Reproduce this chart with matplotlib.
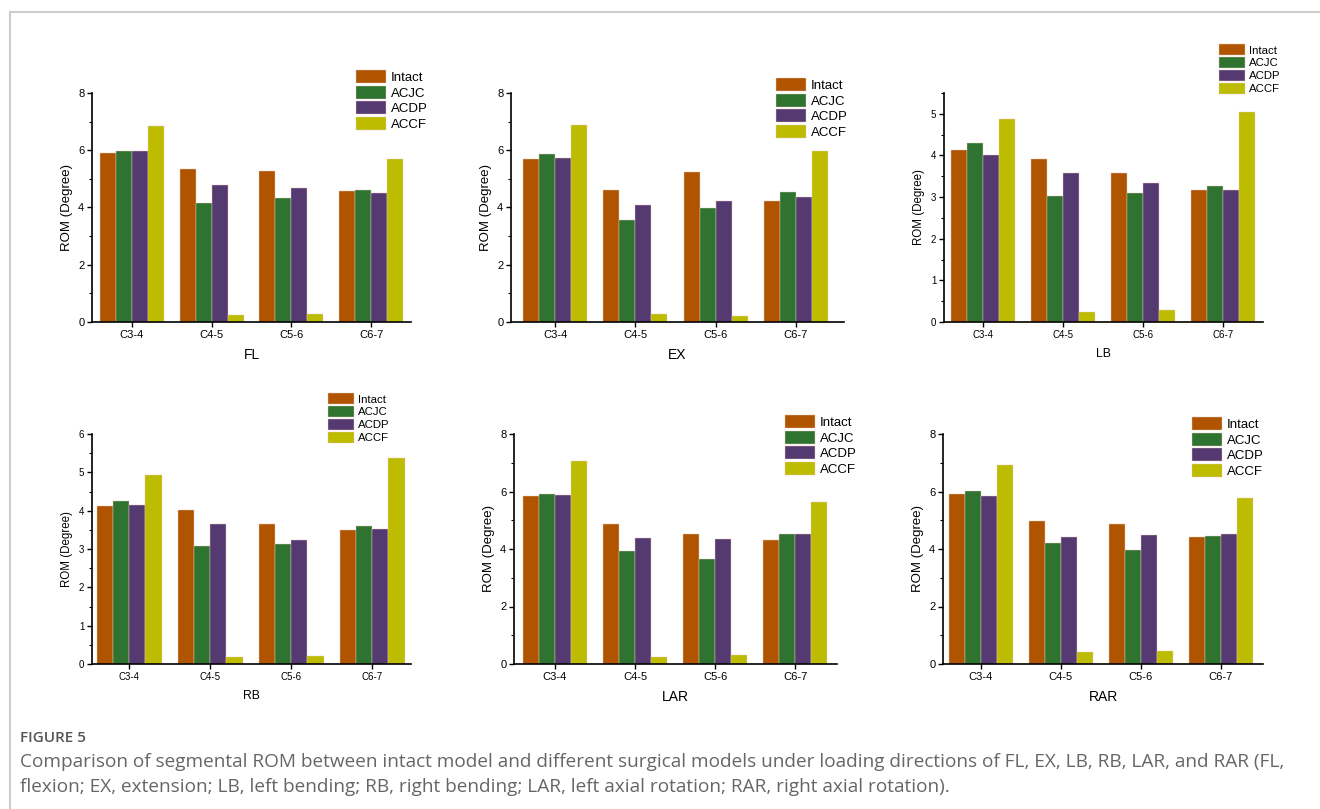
import numpy as np
import matplotlib
matplotlib.use("Agg")
import matplotlib.pyplot as plt
from matplotlib.ticker import MultipleLocator

plt.rcParams['font.family'] = ['Liberation Sans', 'DejaVu Sans']

segments = ["C3-4", "C4-5", "C5-6", "C6-7"]
models = ["Intact", "ACJC", "ACDP", "ACCF"]
colors = ["#B05400", "#2E7430", "#543A70", "#BEBC00"]

# ROM values per loading direction, rows = models, cols = segments
fl = [[5.92, 5.34, 5.29, 4.57],
      [5.99, 4.15, 4.33, 4.62],
      [5.96, 4.80, 4.68, 4.52],
      [6.83, 0.23, 0.29, 5.68]]
ex = [[5.71, 4.62, 5.25, 4.22],
      [5.88, 3.56, 3.98, 4.55],
      [5.74, 4.09, 4.22, 4.37],
      [6.89, 0.27, 0.21, 5.96]]
lb = [[4.14, 3.91, 3.59, 3.18],
      [4.31, 3.03, 3.10, 3.26],
      [4.02, 3.59, 3.33, 3.17],
      [4.87, 0.23, 0.28, 5.05]]
rb = [[4.11, 4.01, 3.64, 3.50],
      [4.24, 3.09, 3.14, 3.61],
      [4.14, 3.66, 3.23, 3.53],
      [4.93, 0.19, 0.21, 5.37]]
lar = [[5.84, 4.87, 4.52, 4.31],
       [5.91, 3.92, 3.65, 4.53],
       [5.89, 4.38, 4.35, 4.51],
       [7.05, 0.26, 0.30, 5.62]]
rar = [[5.92, 4.97, 4.88, 4.42],
       [6.03, 4.21, 3.98, 4.44],
       [5.86, 4.43, 4.47, 4.52],
       [6.91, 0.42, 0.46, 5.77]]

W, H = 1320, 809
fig = plt.figure(figsize=(W / 100, H / 100), dpi=100)

# frame lines of the page
fig.add_artist(plt.Line2D([10 / W, 1], [1 - 12 / H, 1 - 12 / H], color="#cccccc", lw=1.5))
fig.add_artist(plt.Line2D([10 / W, 10 / W], [0, 1 - 12 / H], color="#cccccc", lw=1.5))

# panel settings: data, name, axes box (px: left, right, bottom, top), xlim, ylim, major step,
# legend (px: handle left x, first row top y), font sizes (tick, label, legend)
panels = [
    (fl, "FL", (92, 411, 322, 93), (-0.5, 3.5), 8, 2, (356, 70), (8, 9.5, 9.5)),
    (ex, "EX", (511, 844, 322, 93), (-0.55, 3.6), 8, 2, (776, 78), (8, 9.5, 9.5)),
    (lb, "LB", (944, 1263, 322, 93), (-0.49, 3.5), 5.5, 1, (1219, 44), (7, 8.3, 8.2)),
    (rb, "RB", (92, 411, 664, 434), (-0.46, 3.48), 6, 1, (328, 393), (7, 8.3, 8.2)),
    (lar, "LAR", (514, 837, 664, 434), (-0.51, 3.52), 8, 2, (785, 415), (8, 9.5, 9.5)),
    (rar, "RAR", (943, 1263, 664, 434), (-0.475, 3.53), 8, 2, (1192, 417), (8, 9.5, 9.5)),
]

x = np.arange(len(segments))
bw = 0.2
for data, name, box, xl, ytop, step, leg, fs in panels:
    l, r, b, t = box
    ax = fig.add_axes([l / W, 1 - b / H, (r - l) / W, (b - t) / H])
    for i, m in enumerate(models):
        ax.bar(x + (i - 1.5) * bw, data[i], bw, color=colors[i], label=m,
               edgecolor="#e8c8c0", linewidth=0.3)
    ax.set_xlim(*xl)
    ax.set_ylim(0, ytop)
    ax.yaxis.set_major_locator(MultipleLocator(step))
    ax.yaxis.set_minor_locator(MultipleLocator(step / 2))
    ax.set_xticks(x)
    ax.set_xticklabels(segments)
    for s in ["top", "right"]:
        ax.spines[s].set_visible(False)
    for s in ["left", "bottom"]:
        ax.spines[s].set_linewidth(1.2)
    ax.tick_params(axis="both", which="major", labelsize=fs[0], length=3.5, width=1, pad=2)
    ax.tick_params(axis="y", which="minor", length=2, width=0.8)
    ax.set_ylabel("ROM (Degree)", fontsize=fs[1], labelpad=4)
    ax.set_xlabel(name, fontsize=fs[1] + 0.5, labelpad=6)
    ax.legend(loc="upper left", bbox_to_anchor=(leg[0] / W, 1 - leg[1] / H),
              bbox_transform=fig.transFigure, frameon=False, fontsize=fs[2],
              handlelength=2.3, handleheight=1.15, handletextpad=0.35,
              labelspacing=0.12, borderpad=0, borderaxespad=0)

fig.text(20 / W, 1 - 738 / H, "FIGURE 5", fontsize=11, color="#555555",
         family=["Open Sans", "DejaVu Sans"], weight="semibold", va="center")
fig.text(20 / W, 1 - 762 / H,
         "Comparison of segmental ROM between intact model and different surgical models under "
         "loading directions of FL, EX, LB, RB, LAR, and RAR (FL,",
         fontsize=13.7, color="#666666", family=["Open Sans", "DejaVu Sans"], va="center")
fig.text(20 / W, 1 - 787 / H,
         "flexion; EX, extension; LB, left bending; RB, right bending; LAR, left axial rotation; "
         "RAR, right axial rotation).",
         fontsize=13.7, color="#666666", family=["Open Sans", "DejaVu Sans"], va="center")

fig.savefig("out.png", dpi=100)
